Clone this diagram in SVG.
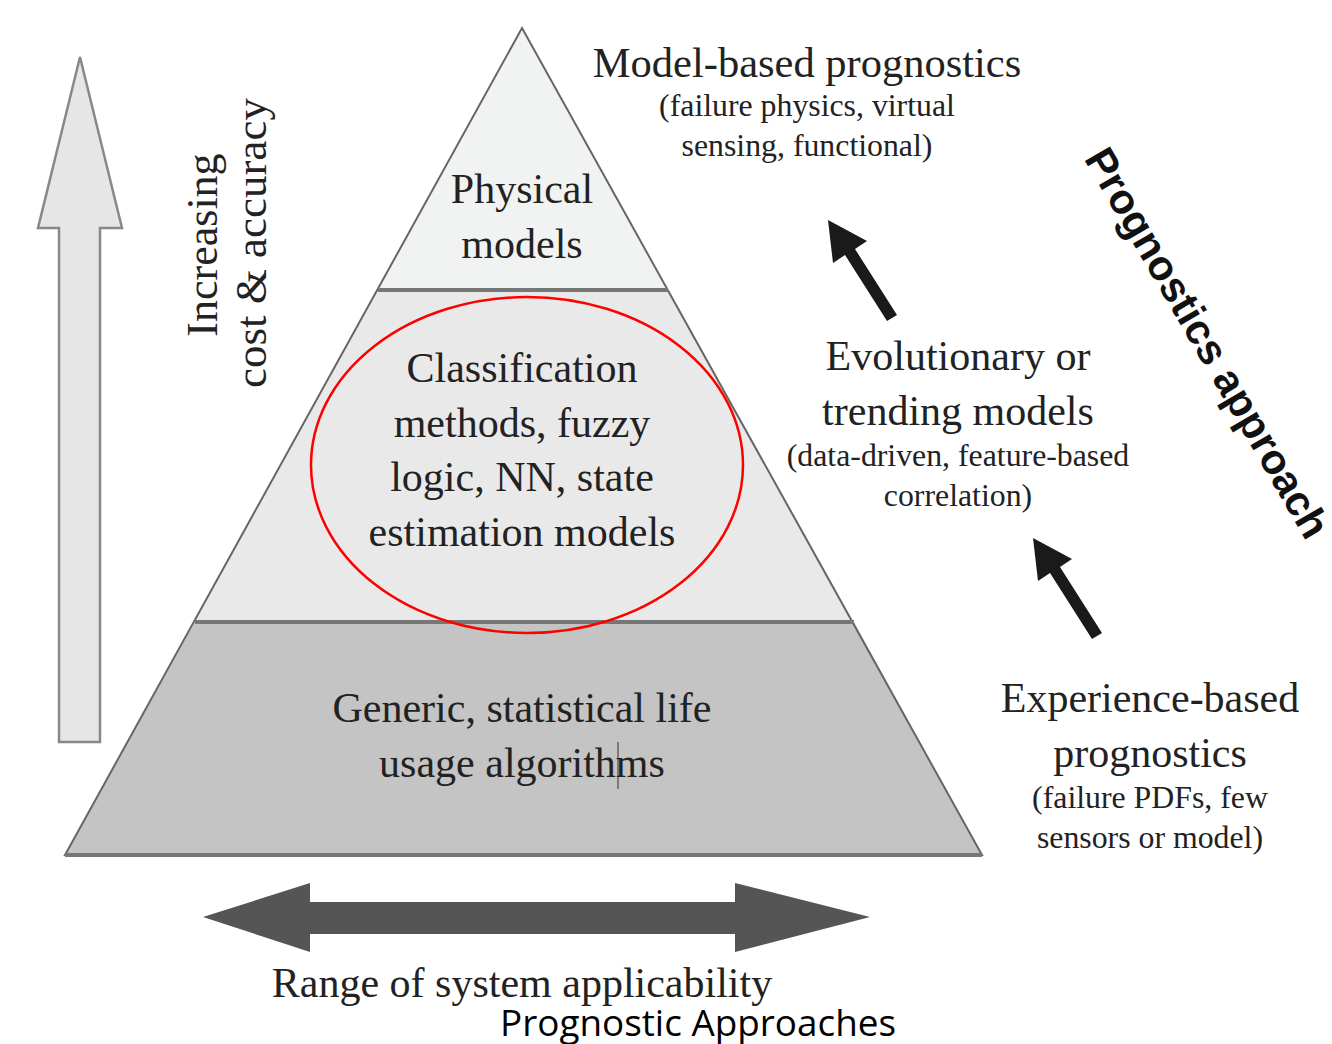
<svg xmlns="http://www.w3.org/2000/svg" width="1332" height="1044" viewBox="0 0 1332 1044">
<defs>
<style>
.serif{font-family:"Liberation Serif","Times New Roman",serif;fill:#222;text-anchor:middle}
.big{font-size:42px}
.small{font-size:31.8px}
.sep{stroke:#777;stroke-width:4}
.edge{fill:none;stroke:#666;stroke-width:2}
.blk{fill:#1a1a1a}
</style>
</defs>
<rect width="1332" height="1044" fill="#ffffff"/>

<g id="pyramid">
  <g id="tier-top">
    <polygon points="522,28 378,290 668,290" fill="#f1f2f2"/>
    <text class="serif big" x="522" y="203">Physical</text>
    <text class="serif big" x="522" y="258">models</text>
  </g>
  <g id="tier-middle">
    <polygon points="378,290 668,290 854,622 195,622" fill="#e9e9e9"/>
    <text class="serif big" x="522" y="382">Classification</text>
    <text class="serif big" x="522" y="437">methods, fuzzy</text>
    <text class="serif big" x="522" y="491">logic, NN, state</text>
    <text class="serif big" x="522" y="546">estimation models</text>
  </g>
  <g id="tier-bottom">
    <polygon points="195,622 854,622 982,855 65,855" fill="#c4c4c4"/>
    <text class="serif big" x="522" y="722">Generic, statistical life</text>
    <text class="serif big" x="522" y="777">usage algorithms</text>
    <line x1="618" y1="742" x2="618" y2="789" stroke="#333" stroke-width="1"/>
  </g>
  <polygon class="edge" points="522,28 982,855 65,855"/>
  <line class="sep" x1="378" y1="290" x2="668" y2="290"/>
  <line class="sep" x1="195" y1="622" x2="854" y2="622"/>
  <line x1="65" y1="855" x2="982" y2="855" stroke="#777" stroke-width="4"/>
</g>

<g id="highlight">
  <ellipse cx="527" cy="465" rx="216" ry="168" fill="none" stroke="#ff0000" stroke-width="2.5"/>
</g>

<g id="cost-arrow">
  <polygon points="80,57 122,228 100,228 100,742 59,742 59,228 38,228" fill="#e6e6e6" stroke="#888" stroke-width="2.5"/>
  <text class="serif" font-size="44" transform="translate(217,245) rotate(-90)">Increasing</text>
  <text class="serif" font-size="45" transform="translate(266,243) rotate(-90)">cost &amp; accuracy</text>
</g>

<g id="model-based">
  <text class="serif" font-size="42.5" x="807" y="77">Model-based prognostics</text>
  <text class="serif small" x="807" y="116">(failure physics, virtual</text>
  <text class="serif small" x="807" y="156">sensing, functional)</text>
</g>

<g id="evolutionary">
  <text class="serif big" x="958" y="370">Evolutionary or</text>
  <text class="serif big" x="958" y="425">trending models</text>
  <text class="serif small" x="958" y="466">(data-driven, feature-based</text>
  <text class="serif small" x="958" y="506">correlation)</text>
</g>

<g id="experience">
  <text class="serif big" x="1150" y="712">Experience-based</text>
  <text class="serif big" x="1150" y="767">prognostics</text>
  <text class="serif small" x="1150" y="808">(failure PDFs, few</text>
  <text class="serif small" x="1150" y="848">sensors or model)</text>
</g>

<g id="approach-label">
  <text font-family="Liberation Sans, Arial, sans-serif" font-weight="bold" font-size="42" fill="#111" text-anchor="middle" transform="translate(1195,350) rotate(59.8)">Prognostics approach</text>
</g>

<g id="connectors">
  <g id="arrow-evo-to-model">
    <polygon class="blk" points="828,220 867,241 855,249 897,315 887,321 845,255 833,263"/>
  </g>
  <g id="arrow-exp-to-evo">
    <polygon class="blk" points="1033,538 1072,559 1060,567 1102,633 1092,639 1050,573 1038,581"/>
  </g>
  <g id="range-arrow">
    <polygon points="203,917 310,883 310,902 735,902 735,883 870,917 735,952 735,934 310,934 310,952" fill="#555"/>
    <text class="serif big" x="522" y="997">Range of system applicability</text>
  </g>
</g>

<text font-family="Open Sans, Noto Sans, sans-serif" font-size="36" fill="#000" x="500" y="1036" textLength="396" lengthAdjust="spacingAndGlyphs">Prognostic Approaches</text>
</svg>
